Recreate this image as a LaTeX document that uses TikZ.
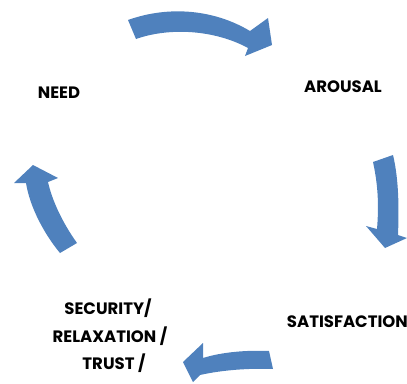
\documentclass[tikz,border=0pt]{standalone}
\usepackage{fontspec}
\setmainfont{Poppins}
\definecolor{arrowblue}{HTML}{4F81BD}
\tikzset{
  blk/.style={fill=arrowblue, draw=none},
  lbl/.style={font=\fontsize{16.5}{20}\selectfont\bfseries, align=center, inner sep=0pt, text=black}
}
\begin{document}
\begin{tikzpicture}[x=1pt,y=-1pt]
\useasboundingbox (0,0) rectangle (407,383);
% top arrow
\fill[blk] (128,20) .. controls (170,5) and (215,10) .. (250,31)
  -- (268,18) -- (272,45) -- (245,56) -- (248,48)
  .. controls (215,30) and (170,27) .. (136,39) -- cycle;
% right arrow
\fill[blk] (373,162) -- (393,155) .. controls (399,180) and (399,210) .. (398,235)
  -- (407,238) -- (385,248) -- (366,226) -- (377,229)
  .. controls (379,205) and (378,185) .. cycle;
% bottom arrow
\fill[blk] (269,351) .. controls (247,350) and (222,352) .. (203,358)
  -- (203,343) -- (183,362) -- (193,382) -- (200,375)
  .. controls (222,370) and (250,368) .. (273,369) -- cycle;
% left arrow
\fill[blk] (60,253) -- (77,243) .. controls (62,222) and (52,200) .. (48,182)
  -- (58,178) -- (33,165) -- (14,183) -- (26,183)
  .. controls (30,208) and (45,235) .. cycle;
% labels
\node[lbl] (need) at (59,93) {NEED};
\node[lbl] (arousal) at (343,87) {AROUSAL};
\node[lbl, anchor=east] (satisfaction) at (408,322) {SATISFACTION};
\node[lbl] (security) at (108,308) {SECURITY/};
\node[lbl] (relax) at (110,336) {RELAXATION /};
\node[lbl] (trust) at (114,363) {TRUST /};
\end{tikzpicture}
\end{document}
